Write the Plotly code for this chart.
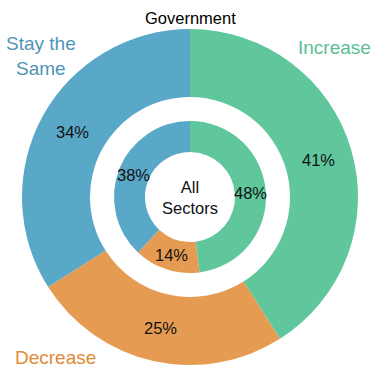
import numpy as np
import plotly.graph_objects as go

categories = ["Increase", "Decrease", "Stay the Same"]
government = [41, 25, 34]
all_sectors = [48, 14, 38]
colors = ["#60c79c", "#e59c52", "#5aa8c8"]

W, H = 374, 367
cx, cy = 190, 197
R_out, r_out_hole = 168, 100
R_in, r_in_hole = 76, 45
FONT = "Liberation Sans, Arial"

def dom(R):
    return dict(x=[(cx - R) / W, (cx + R) / W],
                y=[(H - cy - R) / H, (H - cy + R) / H])

fig = go.Figure()
for values, R, r in [(government, R_out, r_out_hole), (all_sectors, R_in, r_in_hole)]:
    fig.add_trace(go.Pie(
        labels=categories, values=values, sort=False, direction="clockwise",
        rotation=0, hole=r / R, domain=dom(R),
        marker=dict(colors=colors, line=dict(width=0)),
        textinfo="none", showlegend=False, hoverinfo="label+value",
    ))

annotations = []
# percentage labels on each slice's bisector at mid-ring radius
for values, R, r in [(government, R_out, r_out_hole), (all_sectors, R_in, r_in_hole)]:
    vals = np.array(values, dtype=float)
    cum = np.cumsum(vals) - vals / 2
    ang = cum / vals.sum() * 2 * np.pi
    rmid = (R + r) / 2
    for v, a in zip(values, ang):
        px = cx + rmid * np.sin(a)
        py = cy - rmid * np.cos(a)
        annotations.append(dict(
            text=f"{v}%", x=px / W, y=1 - py / H, xref="paper", yref="paper",
            xanchor="center", yanchor="middle", showarrow=False,
            font=dict(size=16.5, color="#111", family=FONT),
        ))

ann = [
    dict(text="Government", x=cx / W, y=1 - 18 / H, size=16.5, color="#000"),
    dict(text="All<br>Sectors", x=cx / W, y=1 - 197 / H, size=16.5, color="#111"),
    dict(text="Stay the<br>Same", x=4 / W, y=1 - 56 / H, size=19, color="#4f95b8", xanchor="left"),
    dict(text="Increase", x=373 / W, y=1 - 47 / H, size=19, color="#5cc096", xanchor="right"),
    dict(text="Decrease", x=13 / W, y=1 - 357 / H, size=19, color="#e08a36", xanchor="left"),
]
for a in ann:
    annotations.append(dict(
        text=a["text"], x=a["x"], y=a["y"], xref="paper", yref="paper",
        xanchor=a.get("xanchor", "center"), yanchor="middle", showarrow=False,
        font=dict(size=a["size"], color=a["color"], family=FONT),
    ))

fig.update_layout(
    width=W, height=H, margin=dict(l=0, r=0, t=0, b=0),
    paper_bgcolor="white", plot_bgcolor="white",
    annotations=annotations,
)
fig.write_html("out.html")
